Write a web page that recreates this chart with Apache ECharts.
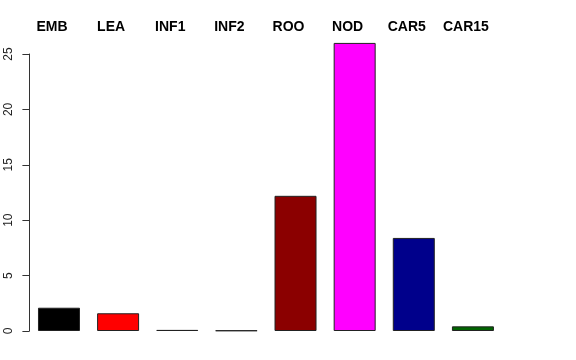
<!DOCTYPE html>
<html>
<head>
<meta charset="utf-8">
<script src="https://cdn.jsdelivr.net/npm/echarts@6/dist/echarts.min.js"></script>
<style>html,body{margin:0;padding:0;background:#fff}#c{width:576px;height:360px}</style>
</head>
<body>
<div id="c"></div>
<script>
const categories = ['EMB', 'LEA', 'INF1', 'INF2', 'ROO', 'NOD', 'CAR5', 'CAR15'];
const values = [2.1, 1.6, 0.1, 0.05, 12.2, 26.0, 8.4, 0.42];
const yTicks = [0, 5, 10, 15, 20, 25];
const barColors = ['#000000', '#ff0000', '#1f4a1f', '#d0d0d0', '#8b0000', '#ff00ff', '#00008b', '#006400'];

const chart = echarts.init(document.getElementById('c'), null, {renderer: 'canvas'});
chart.setOption({
  animation: false,
  backgroundColor: '#ffffff',
  grid: {left: 29.4, right: 73.5, top: 54, bottom: 29, containLabel: false},
  xAxis: {
    type: 'category',
    position: 'top',
    data: categories,
    axisLine: {show: false},
    axisTick: {show: false},
    axisLabel: {
      interval: 0,
      margin: 20,
      fontFamily: 'Liberation Sans, Arial, sans-serif',
      fontWeight: 'bold',
      fontSize: 14,
      color: '#000',
      padding: [0, 14, 0, 0]
    }
  },
  yAxis: {
    type: 'value',
    min: yTicks[0],
    max: yTicks[yTicks.length - 1],
    interval: 5,
    splitLine: {show: false},
    axisLine: {show: true, lineStyle: {color: '#333', width: 1}},
    axisTick: {show: true, length: 7, lineStyle: {color: '#333'}},
    axisLabel: {
      rotate: 90,
      margin: 15,
      fontFamily: 'Liberation Sans, Arial, sans-serif',
      fontSize: 12,
      color: '#222'
    }
  },
  series: [{
    type: 'bar',
    clip: false,
    barWidth: 42,
    data: values.map((v, i) => ({value: v, itemStyle: {color: barColors[i]}})),
    itemStyle: {borderColor: '#222', borderWidth: 1}
  }]
});
</script>
</body>
</html>
